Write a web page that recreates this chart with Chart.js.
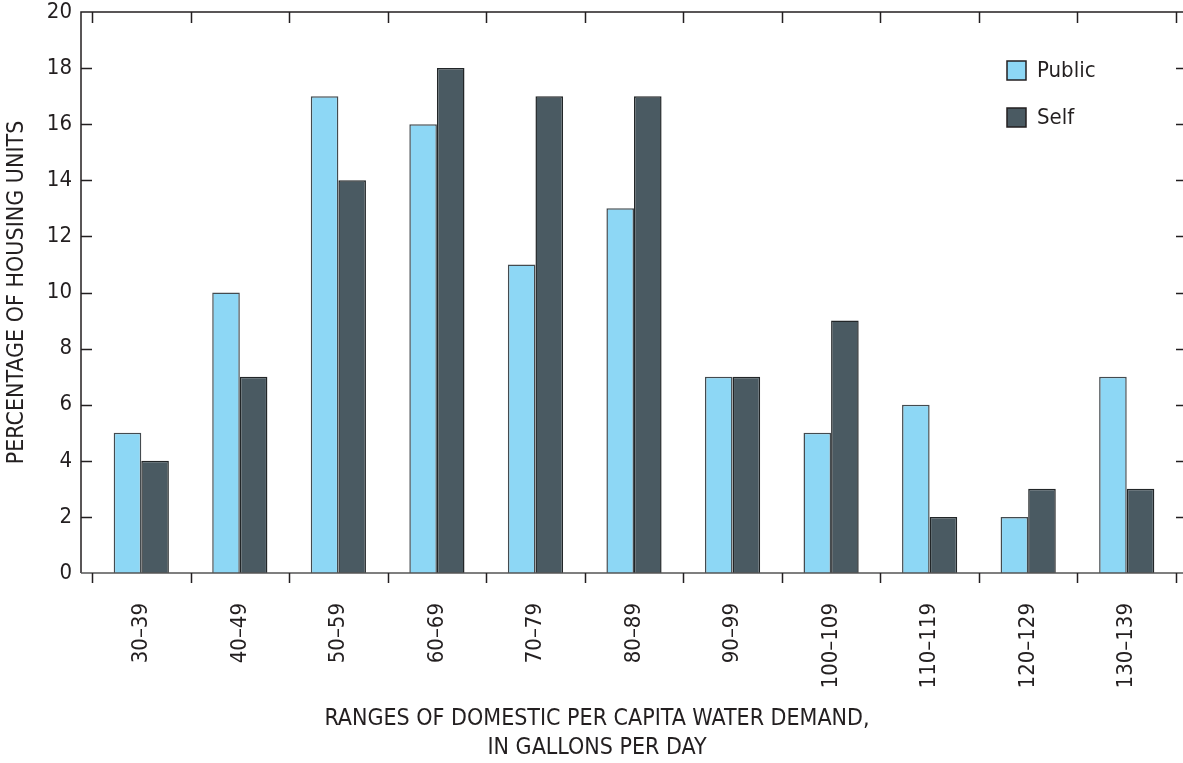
<!DOCTYPE html>
<html>
<head>
<meta charset="utf-8">
<script src="https://cdn.jsdelivr.net/npm/chart.js@4.4.0/dist/chart.umd.min.js"></script>
<style>
  html, body { margin: 0; padding: 0; background: #fff; overflow: hidden; }
</style>
</head>
<body>
<canvas id="chart" width="1183" height="763"></canvas>
<script>
const categories = ['30–39', '40–49', '50–59', '60–69', '70–79', '80–89', '90–99', '100–109', '110–119', '120–129', '130–139'];
const publicValues = [5, 10, 17, 16, 11, 13, 7, 5, 6, 2, 7];
const selfValues = [4, 7, 14, 18, 17, 17, 7, 9, 2, 3, 3];
const yTicks = [0, 2, 4, 6, 8, 10, 12, 14, 16, 18, 20];
const xTitle = ['RANGES OF DOMESTIC PER CAPITA WATER DEMAND,', 'IN GALLONS PER DAY'];

const FONT = '"Liberation Sans Narrow", "DejaVu Sans Condensed", "Roboto", sans-serif';
const INK = '#231f20';
const GAP = 11; // frame sits a bit outside the category range

// frame, inward ticks, legend and x title
const framePlugin = {
    id: 'frame',
    afterDraw(chart) {
        const { ctx, chartArea: a, scales } = chart;
        const x = scales.x, y = scales.y;
        const left = a.left - GAP, right = a.right + GAP;
        ctx.save();
        ctx.strokeStyle = INK;
        ctx.lineWidth = 1.5;
        ctx.beginPath();
        ctx.moveTo(left, a.bottom);
        ctx.lineTo(left, a.top);
        ctx.lineTo(right, a.top);
        ctx.lineTo(right, a.bottom);
        ctx.stroke();
        ctx.strokeStyle = '#555';
        ctx.beginPath();
        ctx.moveTo(left, a.bottom);
        ctx.lineTo(right, a.bottom);
        ctx.stroke();

        ctx.strokeStyle = INK;
        ctx.lineWidth = 1.5;
        ctx.beginPath();
        yTicks.forEach(v => {
            if (v === 0 || v === 20) return;
            const py = Math.round(y.getPixelForValue(v)) + 0.5;
            ctx.moveTo(left, py); ctx.lineTo(left + 11, py);
            ctx.moveTo(right, py); ctx.lineTo(right - 11, py);
        });
        for (let i = 0; i <= categories.length; i++) {
            const px = Math.round(x.getPixelForValue(i - 0.5)) + 0.5;
            ctx.moveTo(px, a.top); ctx.lineTo(px, a.top + 11);
            ctx.moveTo(px, a.bottom); ctx.lineTo(px, a.bottom + 10);
        }
        ctx.stroke();

        // legend
        ctx.font = '22px ' + FONT;
        ctx.textBaseline = 'middle';
        chart.data.datasets.forEach((ds, i) => {
            const by = 61 + i * 47;
            ctx.fillStyle = ds.backgroundColor;
            ctx.fillRect(1007, by, 19, 19);
            ctx.strokeStyle = INK;
            ctx.lineWidth = 1.5;
            ctx.strokeRect(1007, by, 19, 19);
            ctx.fillStyle = INK;
            ctx.fillText(ds.label, 1037, by + 10);
        });

        // x axis title (sits left of the plot centre in the original)
        ctx.font = '23px ' + FONT;
        ctx.textAlign = 'center';
        xTitle.forEach((line, i) => ctx.fillText(line, 597, 719 + i * 29));
        ctx.restore();
    }
};

new Chart(document.getElementById('chart'), {
    type: 'bar',
    data: {
        labels: categories,
        datasets: [{
            label: 'Public',
            data: publicValues,
            backgroundColor: '#8dd7f5',
            borderColor: '#444b4f',
            borderWidth: 1.5,
            categoryPercentage: 0.56,
            barPercentage: 1
        }, {
            label: 'Self',
            data: selfValues,
            backgroundColor: '#4a5a62',
            borderColor: '#222628',
            borderWidth: 1.5,
            categoryPercentage: 0.56,
            barPercentage: 1
        }]
    },
    plugins: [framePlugin],
    options: {
        responsive: false,
        animation: false,
        devicePixelRatio: 1,
        layout: { padding: { top: 12, right: 7, left: 0, bottom: 0 } },
        plugins: {
            legend: { display: false },
            tooltip: { enabled: false }
        },
        scales: {
            x: {
                afterFit(scale) {
                    scale.height = 190;
                    scale.paddingLeft = 0;
                    scale.paddingRight = 0;
                },
                border: { display: false },
                grid: { display: false, drawTicks: false },
                ticks: {
                    color: INK,
                    font: { family: FONT, size: 22 },
                    minRotation: 90,
                    maxRotation: 90,
                    padding: 30
                }
            },
            y: {
                min: 0,
                max: 20,
                afterFit(scale) {
                    scale.width = 92;
                    scale.paddingTop = 0;
                    scale.paddingBottom = 0;
                },
                afterBuildTicks(scale) { scale.ticks = yTicks.map(v => ({ value: v })); },
                border: { display: false },
                grid: { display: false, drawTicks: false },
                ticks: {
                    color: INK,
                    font: { family: FONT, size: 22 },
                    padding: 20
                },
                title: {
                    display: true,
                    text: 'PERCENTAGE OF HOUSING UNITS',
                    color: INK,
                    font: { family: FONT, size: 23 },
                    padding: { top: 3 }
                }
            }
        }
    }
});
</script>
</body>
</html>
